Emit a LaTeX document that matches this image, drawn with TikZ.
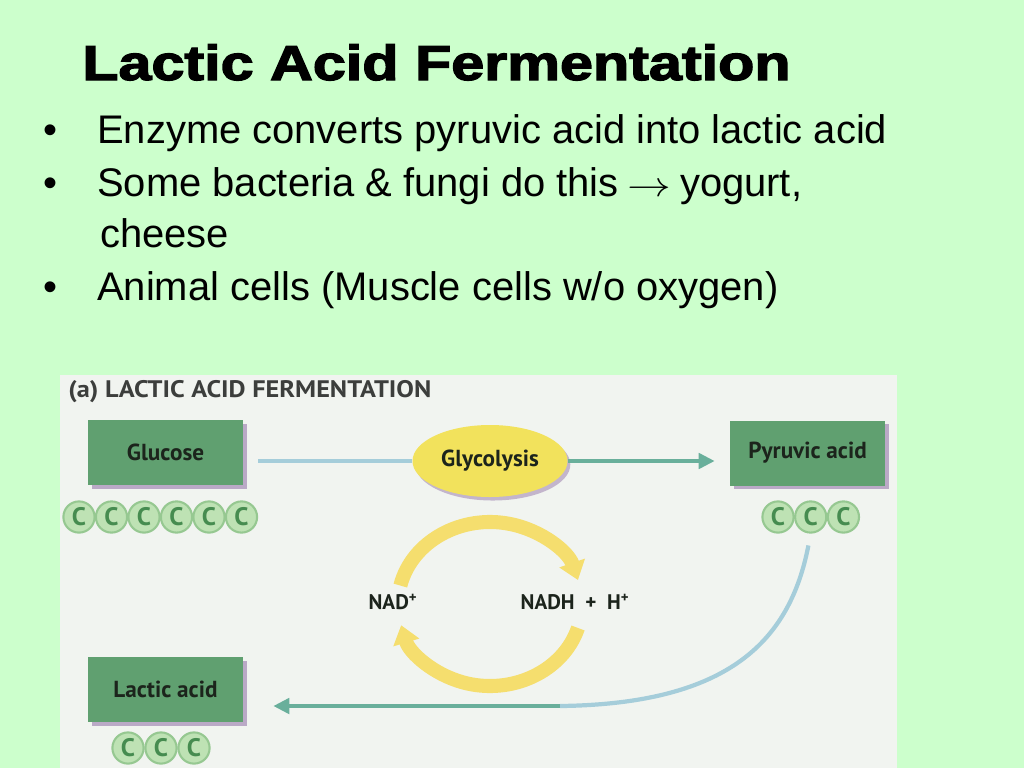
\documentclass[tikz,border=0pt]{standalone}
\usepackage{fontspec}
\setmainfont{Liberation Sans}
\newfontfamily\diagfont{PT Sans}
\newfontfamily\titlefont{Liberation Sans}[UprightFont={* Bold}, UprightFeatures={FakeBold=2.5}]
\usetikzlibrary{arrows.meta,shadows,shapes.geometric,calc}
\definecolor{slidebg}{RGB}{204,255,204}
\definecolor{panel}{RGB}{241,244,240}
\definecolor{boxgreen}{RGB}{96,160,112}
\definecolor{boxshadow}{RGB}{150,120,170}
\definecolor{labeltext}{RGB}{28,36,28}
\definecolor{headtext}{RGB}{60,62,60}
\definecolor{glyyellow}{RGB}{242,226,92}
\definecolor{cycyellow}{RGB}{245,222,110}
\definecolor{lineblue}{RGB}{165,205,218}
\definecolor{lineteal}{RGB}{105,175,155}
\definecolor{cfill}{RGB}{190,226,180}
\definecolor{cline}{RGB}{150,200,145}
\definecolor{cletter}{RGB}{70,140,80}
\begin{document}
\begin{tikzpicture}[x=0.25mm,y=-0.25mm,
  slidetext/.style={anchor=base west, inner sep=0, font=\fontsize{28.4}{34}\selectfont},
  bulletmark/.style={anchor=base, inner sep=0, font=\fontsize{28.4}{34}\selectfont},
  compbox/.style={rectangle, fill=boxgreen, minimum width=38.75mm, minimum height=16.25mm,
    text=labeltext, font=\diagfont\bfseries\fontsize{16.5}{18}\selectfont,
    drop shadow={shadow xshift=2.5pt, shadow yshift=-2.5pt, fill=boxshadow, opacity=0.6}},
  carbon/.style={circle, fill=cfill, draw=cline, line width=1.5pt, minimum size=7.8mm, inner sep=0,
    text=cletter, font=\diagfont\bfseries\fontsize{18}{19}\selectfont},
  difflabel/.style={inner sep=1pt, text=labeltext, font=\diagfont\bfseries\fontsize{15}{17}\selectfont},
  thinline/.style={line width=3pt},
  tealtip/.style={-{Triangle[length=4mm,width=3.8mm]}},
  cyclearrow/.style={cycyellow, line width=10pt, -{Triangle[length=4.5mm,width=6.5mm]}}
]
\useasboundingbox (0,0) rectangle (1024,768);
\fill[slidebg] (0,0) rectangle (1024,768);
\fill[panel] (60,375) rectangle (897,768);

% title and bullets
\node[anchor=base west, inner sep=0] (title) at (82,80)
  {\scalebox{1.205}[1]{\titlefont\fontsize{35}{40}\selectfont Lactic Acid Fermentation}};
\node[bulletmark] (m1) at (50,143) {•};
\node[slidetext] (b1) at (97,143) {Enzyme converts pyruvic acid into lactic acid};
\node[bulletmark] (m2) at (50,196) {•};
\node[slidetext] (b2) at (97,196) {Some bacteria \& fungi do this\hspace{0.22em}\scalebox{1.25}[1]{$\rightarrow$}\hspace{0.22em}yogurt,};
\node[slidetext] (b2b) at (100,247) {cheese};
\node[bulletmark] (m3) at (50,300) {•};
\node[slidetext] (b3) at (97,300) {Animal cells (Muscle cells w/o oxygen)};

% diagram heading
\node[anchor=base west, inner sep=0, text=headtext]
  (head) at (68,397) {\scalebox{1.1}[1]{\diagfont\bfseries\fontsize{17}{19}\selectfont (a) LACTIC ACID FERMENTATION}};

% boxes
\node[compbox] (glucose) at (165.5,452.5) {Glucose};
\node[compbox] (pyruvic) at (807.5,453) {Pyruvic acid};
\node[compbox] (lactic) at (165.5,689.5) {Lactic acid};
\node[ellipse, fill=glyyellow, minimum width=38.75mm, minimum height=18mm, inner sep=0,
  text=labeltext, font=\diagfont\bfseries\fontsize{16.5}{18}\selectfont,
  drop shadow={shadow xshift=2pt, shadow yshift=-2.5pt, fill=boxshadow, opacity=0.5}]
  (glyco) at (490,461) {Glycolysis};

% carbon chains
\foreach \i in {1,...,6} {\node[carbon] (g\i) at ({79+32.5*(\i-1)},517) {C};}
\foreach \i in {1,2,3} {\node[carbon] (p\i) at ({778+32.7*(\i-1)},517) {C};}
\foreach \i in {1,2,3} {\node[carbon] (l\i) at ({128+33*(\i-1)},748) {C};}

% glycolysis connectors
\draw[lineblue, thinline, shorten <=3.75mm] (glucose.east |- glyco.west) -- (glyco.west);
\draw[lineteal, thinline, tealtip, shorten >=3.75mm] (glyco.east) -- (pyruvic.west |- glyco.east);

% NAD cycle
\node[difflabel] (nad) at (393,602) {NAD\textsuperscript{+}};
\node[difflabel] (nadh) at (575,602) {NADH\ \ +\ \ H\textsuperscript{+}};
\coordinate (cyc) at (490,604);
\draw[cyclearrow] (cyc) ++(193:92 and 82) arc[start angle=193, end angle=343, x radius=92, y radius=82];
\draw[cyclearrow] (cyc) ++(17:92 and 82) arc[start angle=17, end angle=165, x radius=92, y radius=82];

% pyruvic acid to lactic acid
\coordinate (bend) at (560,706);
\coordinate (lacin) at ($(lactic.east)+(0,17.5)$);
\draw[lineblue, thinline, shorten <=3mm] (p2.south) .. controls (790,640) and (730,704) .. (bend);
\draw[lineteal, thinline, tealtip, shorten >=7.5mm] (bend) -- (bend -| lacin);
\end{tikzpicture}
\end{document}
